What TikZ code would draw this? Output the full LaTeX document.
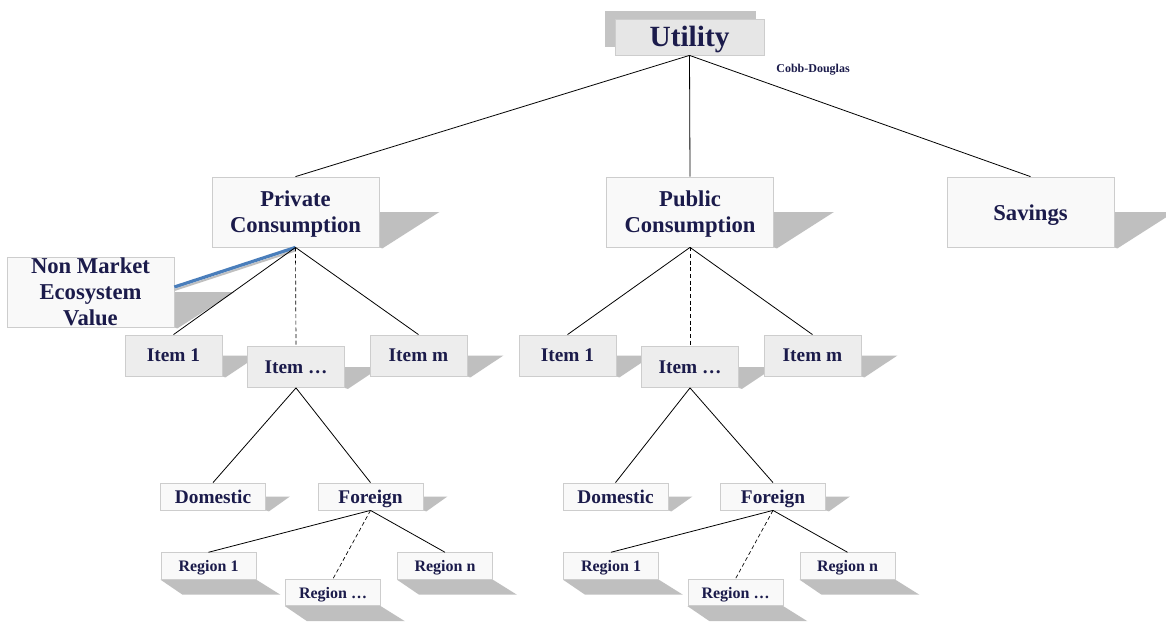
\documentclass[tikz,border=0pt]{standalone}
\usepackage{fontspec}
\setmainfont{Liberation Serif}
\usepackage{xcolor}
\usetikzlibrary{backgrounds}
\definecolor{tn}{HTML}{1B1B4B}
\definecolor{tf}{HTML}{F9F9F9}
\definecolor{tg}{HTML}{EDEDED}
\definecolor{tu}{HTML}{E6E6E6}
\definecolor{te}{HTML}{CDCDCD}
\definecolor{ts}{HTML}{BFBFBF}
\definecolor{tk}{HTML}{C4C4C4}
\definecolor{tb}{HTML}{4A7EBB}

% drop shadows: one to the right of a box, one below it
\newcommand\sidesh[2]{\fill[ts] (#1.south east) -- (#1.east) -- ++(#2,0) -- ([shift={(3,1)}]#1.south east) -- cycle;}
\newcommand\lowsh[1]{\fill[ts] (#1.south west) -- ([shift={(22,15)}]#1.south west) -- ([shift={(24,15)}]#1.south east) -- (#1.south east) -- cycle;}

\begin{document}
\begin{tikzpicture}[x=0.75pt,y=-0.75pt,
  box/.style={draw=te,fill=tf,line width=0.6pt,inner sep=0pt,text=tn,align=center},
  bigbox/.style={box,minimum width=125.25pt,minimum height=52.5pt,font=\fontsize{17}{19.5}\selectfont\bfseries},
  twoline/.style={text height=35pt,text depth=3.7pt},
  itembox/.style={box,fill=tg,minimum width=72.75pt,minimum height=30.75pt,text height=9.6pt,text depth=0pt,font=\fontsize{14.5}{16}\selectfont\bfseries},
  sidebox/.style={box,minimum width=78.75pt,minimum height=20.25pt,text height=10pt,text depth=0pt,font=\fontsize{14.5}{16}\selectfont\bfseries},
  regbox/.style={box,minimum width=71.25pt,minimum height=20pt,text height=8.6pt,text depth=0pt,font=\fontsize{12}{13}\selectfont\bfseries},
  cord/.style={black,line width=0.6pt},
  cordd/.style={cord,densely dashed,line width=0.5pt}]
  \begin{scope}[on background layer]
    \fill[white] (0,0) rectangle (1166,621);
  \end{scope}
  \useasboundingbox (0,0) rectangle (1166,621);

  % top of the tree
  \node[box,fill=tk,draw=none,minimum width=113.25pt,minimum height=27pt] (utilsh) at (680.5,29) {};
  \node[box,fill=tu,minimum width=111.75pt,minimum height=27pt,text height=14.6pt,text depth=0pt,font=\fontsize{22}{24}\selectfont\bfseries] (util) at (689.5,37) {Utility};
  \node[text=tn,font=\fontsize{9}{10}\selectfont\bfseries] (cd) at (813,70) {Cobb-Douglas};

  \node[bigbox,twoline] (priv) at (295.5,212) {Private\\Consumption};
  \node[bigbox,twoline] (pub) at (690,212) {Public\\Consumption};
  \node[bigbox,text height=15.7pt,text depth=3.7pt] (sav) at (1030.5,212) {Savings};
  \node[bigbox] (nonmkt) at (90.5,292) {Non Market\\Ecosystem\\Value};

  \draw[cord] (util.south) -- (priv.north);
  \draw[cord] (util.south) -- (pub.north);
  \draw[cord] (util.south) -- (sav.north);

  % blue link with its own shadow
  \draw[ts,line width=1.5pt] ([shift={(0,3)}]priv.south) -- ([shift={(0,-2)}]nonmkt.east);
  \draw[tb,line width=2.4pt] (priv.south) -- ([shift={(0,-5)}]nonmkt.east);

  % the two consumption branches
  \foreach \s/\a/\b/\p in {l/0/0/priv, r/394/402.5/pub} {
    \node[itembox] (\s-it1) at (173.5+\a,355.5) {Item 1};
    \node[itembox] (\s-itk) at (296+\a,367) {Item \dots};
    \node[itembox] (\s-itm) at (418.5+\a,355.5) {Item m};
    \node[sidebox] (\s-dom) at (213+\b,496.5) {Domestic};
    \node[sidebox] (\s-for) at (370.5+\b,496.5) {Foreign};
    \node[regbox] (\s-rg1) at (208.5+\b,566) {Region 1};
    \node[regbox] (\s-rgk) at (333+\b,592.5) {Region \dots};
    \node[regbox] (\s-rgn) at (445+\b,566) {Region n};

    \draw[cord] (\p.south) -- (\s-it1.north);
    \draw[cordd] (\p.south) -- (\s-itk.north);
    \draw[cord] (\p.south) -- (\s-itm.north);
    \draw[cord] (\s-itk.south) -- (\s-dom.north);
    \draw[cord] (\s-itk.south) -- (\s-for.north);
    \draw[cord] (\s-for.south) -- (\s-rg1.north);
    \draw[cordd] (\s-for.south) -- (\s-rgk.north);
    \draw[cord] (\s-for.south) -- (\s-rgn.north);
  }

  % shadows, kept behind the boxes
  \begin{scope}[on background layer]
    \foreach \n in {priv,pub,sav,nonmkt} {\sidesh{\n}{60}}
    \foreach \s in {l,r} {
      \foreach \n in {it1,itk,itm} {\sidesh{\s-\n}{36}}
      \foreach \n in {dom,for} {\sidesh{\s-\n}{24}}
      \foreach \n in {rg1,rgk,rgn} {\lowsh{\s-\n}}
    }
  \end{scope}
\end{tikzpicture}
\end{document}
